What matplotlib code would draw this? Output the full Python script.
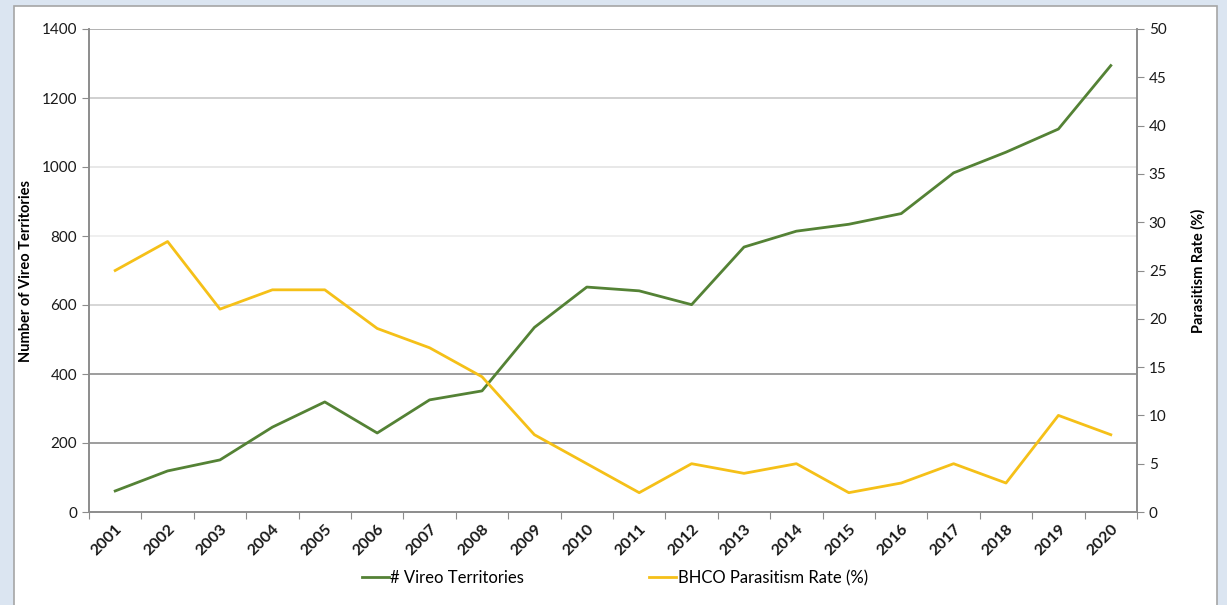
import matplotlib.pyplot as plt
from matplotlib.patches import Rectangle

plt.rcParams['font.family'] = ['Lato', 'DejaVu Sans']

# data
years = [str(y) for y in range(2001, 2021)]
vireo_territories = [61, 119, 151, 246, 319, 229, 325, 351, 535, 652,
                     641, 601, 768, 814, 834, 865, 983, 1043, 1110, 1294]
parasitism_rate = [25, 28, 21, 23, 23, 19, 17, 14, 8, 5,
                   2, 5, 4, 5, 2, 3, 5, 3, 10, 8]

left_ticks = list(range(0, 1401, 200))
right_ticks = list(range(0, 51, 5))

fig = plt.figure(figsize=(12.27, 6.05), dpi=100)
fig.patch.set_facecolor('#dbe5f1')

# white chart panel with grey border
panel = Rectangle((14 / 1227, -0.01), (1217 - 14) / 1227, 1 - 6 / 605 + 0.01,
                  transform=fig.transFigure, facecolor='white',
                  edgecolor='#a6a6a6', linewidth=1.2, zorder=-10)
fig.patches.append(panel)

ax = fig.add_axes([89 / 1227, 1 - 512 / 605, (1137 - 89) / 1227, (512 - 29) / 605])
ax.set_facecolor('none')
ax2 = ax.twinx()

x = list(range(len(years)))
ax.plot(x, vireo_territories, color='#548235', linewidth=2, label='# Vireo Territories')
ax2.plot(x, parasitism_rate, color='#f5c018', linewidth=2, label='BHCO Parasitism Rate (%)')

ax.set_xlim(-0.5, len(years) - 0.5)
ax.set_ylim(0, 1400)
ax2.set_ylim(0, 50)
ax.set_yticks(left_ticks)
ax2.set_yticks(right_ticks)

# gridlines (shades vary like the reference)
grid_colors = {200: '#8c8c8c', 400: '#8c8c8c', 600: '#d0d0d0', 800: '#ececec',
               1000: '#e4e4e4', 1200: '#c8c8c8', 1400: '#a6a6a6'}
for val, col in grid_colors.items():
    ax.axhline(val, color=col, linewidth=1.2, zorder=0)

# category axis: ticks on boundaries, labels at centres
ax.set_xticks([i - 0.5 for i in range(len(years) + 1)], minor=False)
ax.set_xticklabels([])
ax.set_xticks(x, minor=True)
ax.set_xticklabels(years, minor=True, rotation=45, ha='right', va='top',
                   rotation_mode='anchor', fontsize=11.5, fontweight='bold', color='#1a1a1a')
ax.tick_params(axis='x', which='minor', length=0, pad=7)
ax.tick_params(axis='x', which='major', length=5, color='#8c8c8c', direction='out')

ax.tick_params(axis='y', length=5, color='#8c8c8c', labelsize=11, labelcolor='#1a1a1a')
ax2.tick_params(axis='y', length=5, color='#8c8c8c', labelsize=11, labelcolor='#1a1a1a')

for a in (ax, ax2):
    a.spines['top'].set_visible(False)
    for s in ('left', 'right', 'bottom'):
        a.spines[s].set_color('#8c8c8c')
        a.spines[s].set_linewidth(1.2)

ax.set_ylabel('Number of Vireo Territories', fontsize=10.5, fontweight='bold', labelpad=6)
ax2.set_ylabel('Parasitism Rate (%)', fontsize=10.5, fontweight='bold', labelpad=18)

h1, l1 = ax.get_legend_handles_labels()
h2, l2 = ax2.get_legend_handles_labels()
fig.legend(h1 + h2, l1 + l2, loc='center', bbox_to_anchor=(615 / 1227, 1 - 578 / 605),
           ncol=2, frameon=False, fontsize=12, columnspacing=7.5,
           handlelength=1.6, handletextpad=0.1)

fig.savefig('out.png', dpi=100, facecolor=fig.get_facecolor())
